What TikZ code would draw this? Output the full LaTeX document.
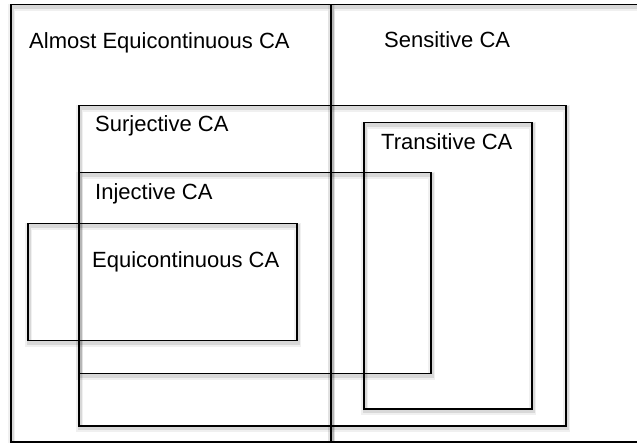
\documentclass[tikz,border=0pt]{standalone}
\usepackage{fontspec}
\setmainfont{Liberation Sans}
\begin{document}
\begin{tikzpicture}[x=1pt, y=-1pt,
    every node/.style={font=\fontsize{22}{26}\selectfont},
    setbox/.style={draw, rectangle, anchor=north west, inner sep=0pt, line width=\linethic,
        preaction={draw=black, draw opacity=0.06, line width=7pt, transform canvas={xshift=1pt, yshift=-2.5pt}},
        preaction={draw=black, draw opacity=0.1, line width=3.5pt, transform canvas={xshift=1pt, yshift=-2.5pt}}},
    setlabel/.style={anchor=base west, inner sep=0pt}]
    %--------------------%
    % Parameters
    %--------------------%
    \def\linethic{1.5pt}
    \def\pagew{637}
    \def\pageh{443}

    \useasboundingbox (0,0) rectangle (\pagew,\pageh);
    \clip (0,0) rectangle (\pagew,\pageh);

    %--------------------%
    % Outer Halves
    %--------------------%
    \node[setbox, minimum width=320pt, minimum height=437pt] (almost) at (10,4) {};
    \node[setbox, minimum width=330pt, minimum height=437pt] (sens) at (330,4) {};

    %--------------------%
    % Inner Classes
    %--------------------%
    \node[setbox, minimum width=487pt, minimum height=320pt] (surj) at (78,105) {};
    \node[setbox, minimum width=168pt, minimum height=286pt] (trans) at (363,122) {};
    \node[setbox, minimum width=352pt, minimum height=201pt] (inj) at (78,172) {};
    \node[setbox, minimum width=269pt, minimum height=117pt] (equi) at (27,223) {};

    %--------------------%
    % Labels
    %--------------------%
    \node[setlabel] (almostlabel) at (29,49) {Almost Equicontinuous CA};
    \node[setlabel] (senslabel) at (384,48) {Sensitive CA};
    \node[setlabel] (surjlabel) at (95,132) {Surjective CA};
    \node[setlabel] (translabel) at (381,150) {Transitive CA};
    \node[setlabel] (injlabel) at (95,200) {Injective CA};
    \node[setlabel] (equilabel) at (92,268) {Equicontinuous CA};

\end{tikzpicture}
\end{document}
